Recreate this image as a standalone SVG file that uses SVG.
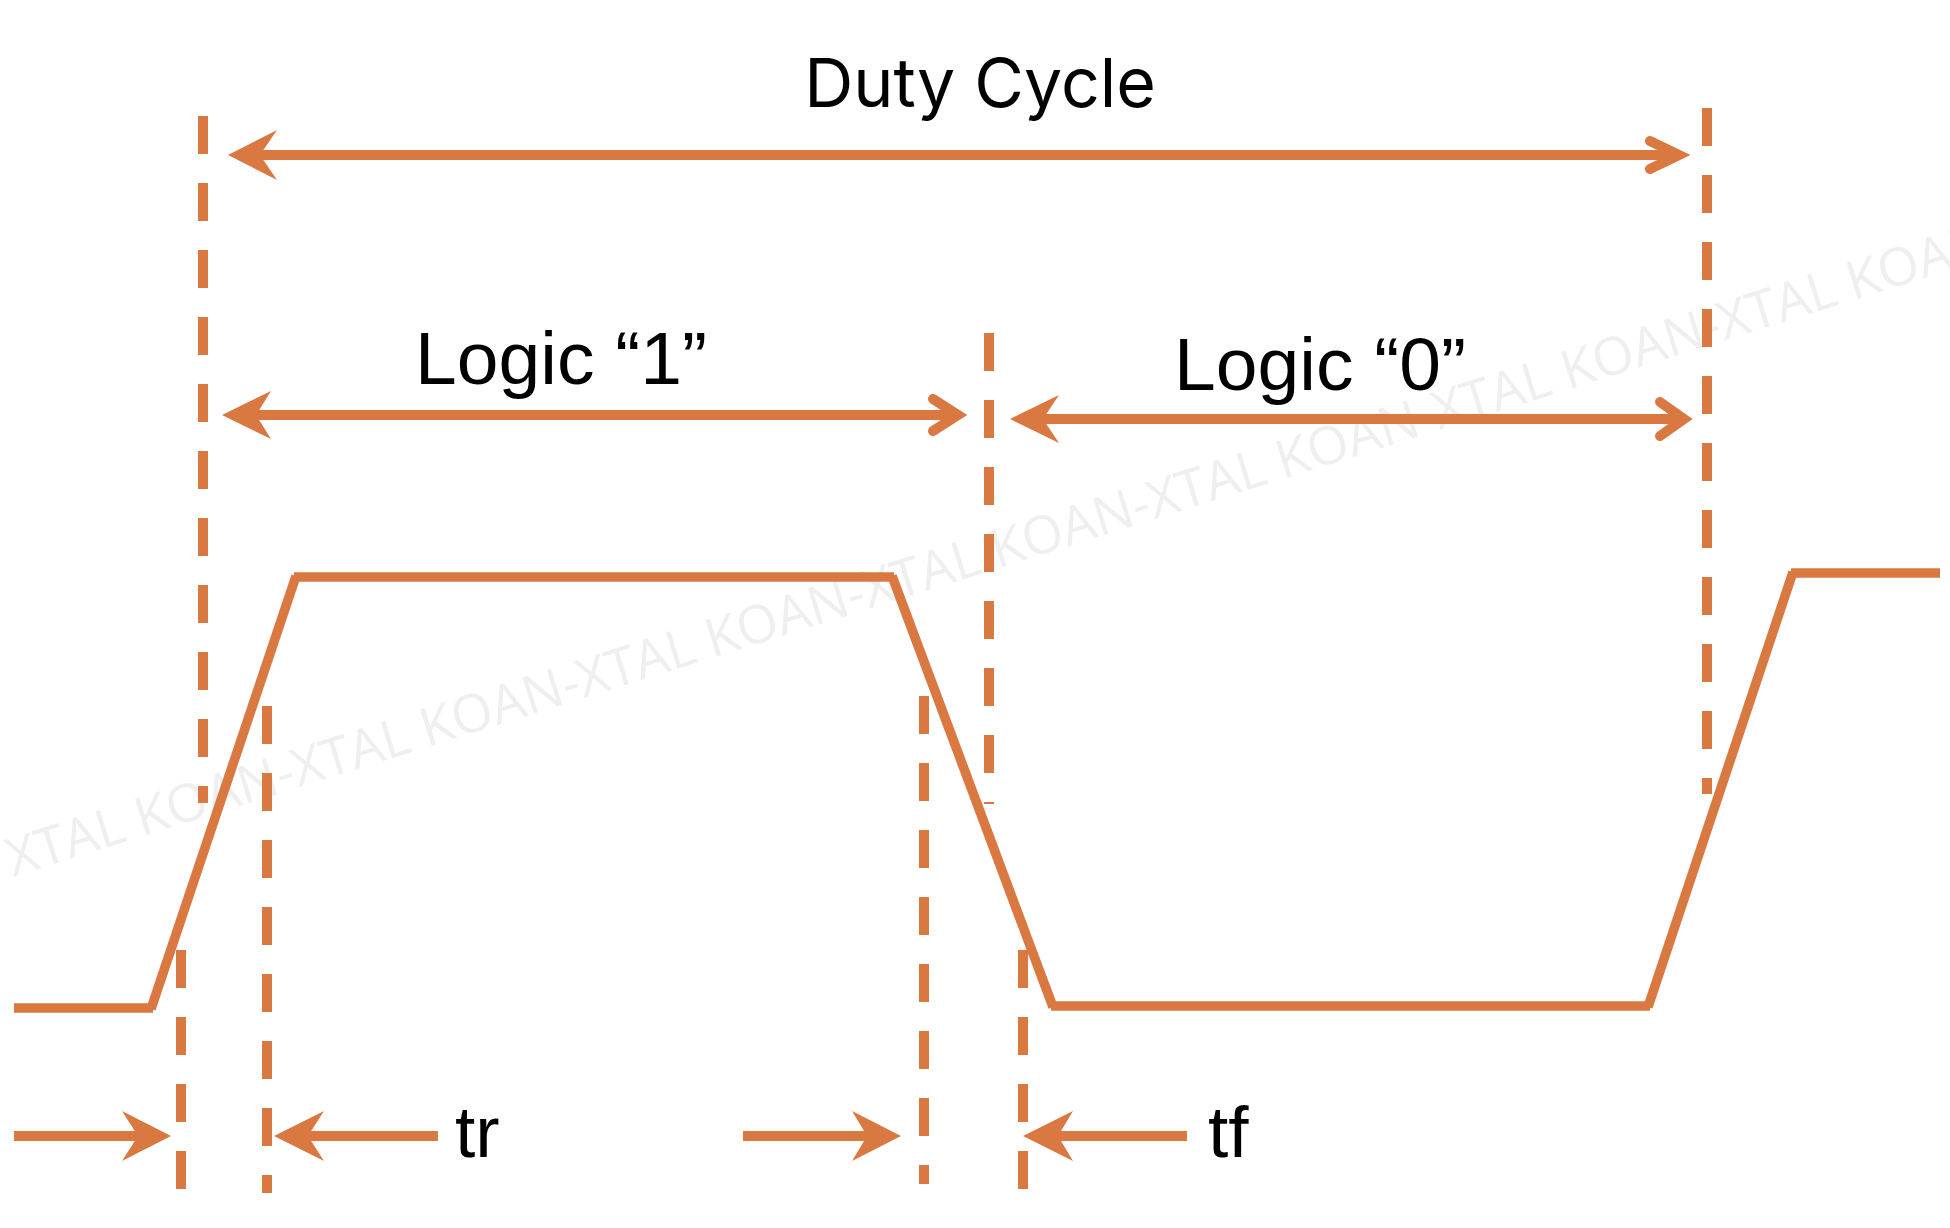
<svg xmlns="http://www.w3.org/2000/svg" width="1950" height="1228" viewBox="0 0 1950 1228">
  <style>
    .dash { stroke: #DA7842; stroke-width: 10; stroke-dasharray: 38 29; fill: none; }
    .sig { stroke: #DA7842; stroke-width: 9.5; fill: none; stroke-linecap: butt; }
    .arr { stroke: #DA7842; stroke-width: 10; fill: none; }
    .chev { stroke: #DA7842; stroke-width: 10; fill: none; stroke-linecap: round; stroke-linejoin: miter; }
    .head { fill: #DA7842; stroke: none; }
    .lbl { font-family: "Liberation Sans", Arial, sans-serif; font-size: 75px; fill: #000; }
    .wm { font-family: "Open Sans", sans-serif; font-size: 53px; fill: #EFEFEF; }
  </style>
  <rect width="1950" height="1228" fill="#FFFFFF"/>
  <text class="wm" x="13" y="877" transform="rotate(-17.4 13 877)">XTAL KOAN-XTAL KOAN-XTAL KOAN-XTAL KOAN-XTAL KOAN-XTAL KOAN-XTAL KOAN</text>

  <g id="guides">
    <line class="dash" x1="203" y1="116" x2="203" y2="803"/>
    <line class="dash" x1="1707" y1="108" x2="1707" y2="794"/>
    <line class="dash" x1="989" y1="333" x2="989" y2="804"/>
    <line class="dash" x1="181" y1="950" x2="181" y2="1189"/>
    <line class="dash" x1="267" y1="706" x2="267" y2="1193"/>
    <line class="dash" x1="924" y1="696" x2="924" y2="1184"/>
    <line class="dash" x1="1023" y1="950" x2="1023" y2="1189"/>
  </g>

  <g id="signal">
    <line class="sig" x1="14" y1="1008" x2="153" y2="1008"/>
    <line class="sig" x1="151" y1="1009" x2="296" y2="576"/>
    <line class="sig" x1="294" y1="577" x2="894" y2="577"/>
    <line class="sig" x1="892" y1="576" x2="1053" y2="1007"/>
    <line class="sig" x1="1051" y1="1006" x2="1650" y2="1006"/>
    <line class="sig" x1="1648" y1="1007" x2="1793" y2="572"/>
    <line class="sig" x1="1791" y1="573" x2="1940" y2="573"/>
  </g>

  <g id="connectors">
    <g id="duty-arrow">
      <line class="arr" x1="255" y1="155" x2="1679" y2="155"/>
      <polygon class="head" points="228,155 277,130 260,155 277,180"/>
      <polyline class="chev" points="1650,141 1679,155 1650,169"/>
    </g>
    <g id="logic1-arrow">
      <line class="arr" x1="250" y1="415" x2="958" y2="415"/>
      <polygon class="head" points="222,415 271,391 256,415 271,439"/>
      <polyline class="chev" points="933,399 958,415 933,431"/>
    </g>
    <g id="logic0-arrow">
      <line class="arr" x1="1038" y1="419" x2="1684" y2="419"/>
      <polygon class="head" points="1010,419 1059,395 1043,419 1059,443"/>
      <polyline class="chev" points="1660,402 1684,419 1660,436"/>
    </g>
    <g id="tr-arrows">
      <line class="arr" x1="14" y1="1136" x2="145" y2="1136"/>
      <polygon class="head" points="171,1136 122,1111 138,1136 122,1161"/>
      <line class="arr" x1="300" y1="1136" x2="438" y2="1136"/>
      <polygon class="head" points="274,1136 324,1111 308,1136 324,1161"/>
    </g>
    <g id="tf-arrows">
      <line class="arr" x1="743" y1="1136" x2="875" y2="1136"/>
      <polygon class="head" points="901,1136 852,1111 867,1136 852,1161"/>
      <line class="arr" x1="1050" y1="1136" x2="1187" y2="1136"/>
      <polygon class="head" points="1023,1136 1073,1111 1058,1136 1073,1161"/>
    </g>
  </g>

  <g id="label-duty"><text class="lbl" x="980" y="107" text-anchor="middle" style="font-family:Inter, sans-serif; font-size:68px">Duty Cycle</text></g>
  <g id="label-logic1"><text class="lbl" x="561" y="384" text-anchor="middle">Logic “1”</text></g>
  <g id="label-logic0"><text class="lbl" x="1320" y="390" text-anchor="middle">Logic “0”</text></g>
  <g id="label-tr"><text class="lbl" x="455" y="1157" style="font-size:73px">tr</text></g>
  <g id="label-tf"><text class="lbl" x="1208" y="1157" style="font-size:73px">tf</text></g>
</svg>
